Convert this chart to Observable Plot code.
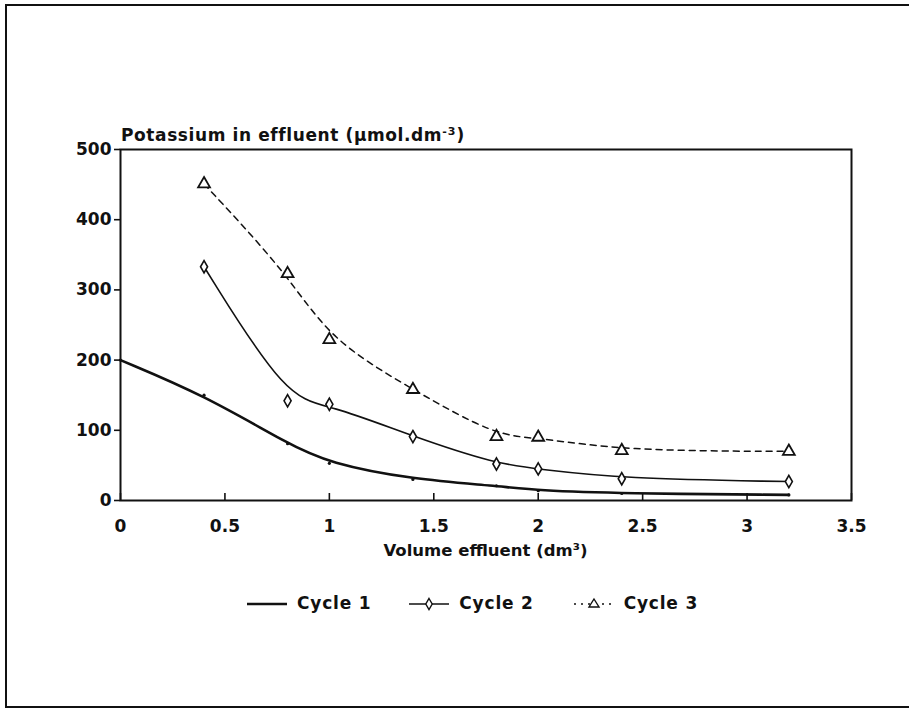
<!DOCTYPE html>
<html><head><meta charset="utf-8">
<script src="https://cdn.jsdelivr.net/npm/d3@7"></script>
<script src="https://cdn.jsdelivr.net/npm/@observablehq/plot@0.6"></script>
<style>
body{margin:0;background:#fff;width:909px;height:709px;overflow:hidden;position:relative;font-family:"DejaVu Sans",sans-serif;font-weight:bold;color:#111}
#border{position:absolute;left:5px;top:4px;width:930px;height:704px;border:2px solid #111;border-right:none;box-sizing:border-box}
#chart{position:absolute;left:0;top:0}
#ytitle{position:absolute;left:121px;top:123px;font-size:17px;letter-spacing:0.6px;line-height:17px;white-space:nowrap}
#ytitle sup{font-size:11px;vertical-align:6px;letter-spacing:1px}
#xtitle{position:absolute;left:0;width:971px;text-align:center;top:542px;font-size:16.5px;line-height:17px;white-space:nowrap}
#legend{position:absolute;top:595px;left:247px;display:flex;align-items:center;font-size:17px;letter-spacing:0.8px;line-height:17px;white-space:nowrap}
#legend .item{display:flex;align-items:center}
#legend svg{margin-right:10px}
</style></head>
<body>
<div id="border"></div>
<div id="chart"></div>
<div id="ytitle">Potassium in effluent (µmol.dm<sup>-3</sup>)</div>
<div id="xtitle">Volume effluent (dm³)</div>
<div id="legend"></div>
<script>
// Data
const volume1 = [0, 0.4, 0.8, 1.0, 1.4, 1.8, 2.0, 2.4, 3.2];
const cycle1 = [200, 150, 81, 53, 30, 21, 14, 10, 8];
const volume23 = [0.4, 0.8, 1.0, 1.4, 1.8, 2.0, 2.4, 3.2];
const cycle2 = [333, 142, 137, 91, 52, 45, 31, 27];
const cycle3 = [451, 323, 229, 158, 91, 90, 71, 70];
const xTicks = [0, 0.5, 1, 1.5, 2, 2.5, 3, 3.5];
const yTicks = [0, 100, 200, 300, 400, 500];
const seriesNames = ["Cycle 1", "Cycle 2", "Cycle 3"];

const d1 = volume1.map((v, i) => ({x: v, y: cycle1[i]}));
const d2 = volume23.map((v, i) => ({x: v, y: cycle2[i]}));
const d3s = volume23.map((v, i) => ({x: v, y: cycle3[i]}));

const chart = Plot.plot({
  width: 909,
  height: 709,
  marginLeft: 120,
  marginRight: 58,
  marginTop: 149,
  marginBottom: 209,
  style: {fontFamily: "DejaVu Sans, sans-serif", fontSize: "17px", fontWeight: "bold", color: "#111", background: "transparent"},
  x: {domain: [0, 3.5]},
  y: {domain: [0, 500]},
  marks: [
    Plot.axisX({ticks: xTicks, tickFormat: d => String(d), tickSize: -7, tickPadding: 26, label: null, strokeWidth: 1.6, letterSpacing: 1}),
    Plot.axisY({ticks: yTicks, tickSize: 6, tickPadding: 3, label: null, strokeWidth: 1.6, letterSpacing: 1.5}),
    Plot.line(d1, {x: "x", y: "y", curve: "basis", stroke: "#111", strokeWidth: 2.6}),
    Plot.dot(d1, {x: "x", y: "y", r: 1.6, fill: "#111"}),
    Plot.line(d2, {x: "x", y: "y", curve: "basis", stroke: "#111", strokeWidth: 1.6}),
    Plot.dot(d2, {x: "x", y: "y", symbol: "diamond", r: 3.7, fill: "white", stroke: "#111", strokeWidth: 1.6}),
    Plot.line(d3s, {x: "x", y: "y", curve: "basis", stroke: "#111", strokeWidth: 1.5, strokeDasharray: "6,5"}),
    Plot.dot(d3s, {x: "x", y: "y", symbol: "triangle", r: 4.4, fill: "white", stroke: "#111", strokeWidth: 1.8}),
    Plot.frame({stroke: "#111", strokeWidth: 2})
  ]
});
document.getElementById("chart").appendChild(chart);

// Legend
const swatches = [
  `<svg width="40" height="16"><line x1="0" y1="8" x2="40" y2="8" stroke="#111" stroke-width="2.6"/></svg>`,
  `<svg width="40" height="16"><line x1="0" y1="8" x2="40" y2="8" stroke="#111" stroke-width="1.6"/><path d="M20,2.5 L23.2,8 L20,13.5 L16.8,8 Z" fill="white" stroke="#111" stroke-width="1.4"/></svg>`,
  `<svg width="40" height="16"><line x1="0" y1="8" x2="40" y2="8" stroke="#111" stroke-width="1.5" stroke-dasharray="2,5"/><path d="M20,3 L25,11 L15,11 Z" fill="white" stroke="#111" stroke-width="1.4"/></svg>`
];
const gaps = [0, 38, 40];
const legend = document.getElementById("legend");
seriesNames.forEach((name, i) => {
  const item = document.createElement("div");
  item.className = "item";
  item.style.marginLeft = gaps[i] + "px";
  item.innerHTML = swatches[i] + `<span>${name}</span>`;
  legend.appendChild(item);
});
</script>
</body></html>
